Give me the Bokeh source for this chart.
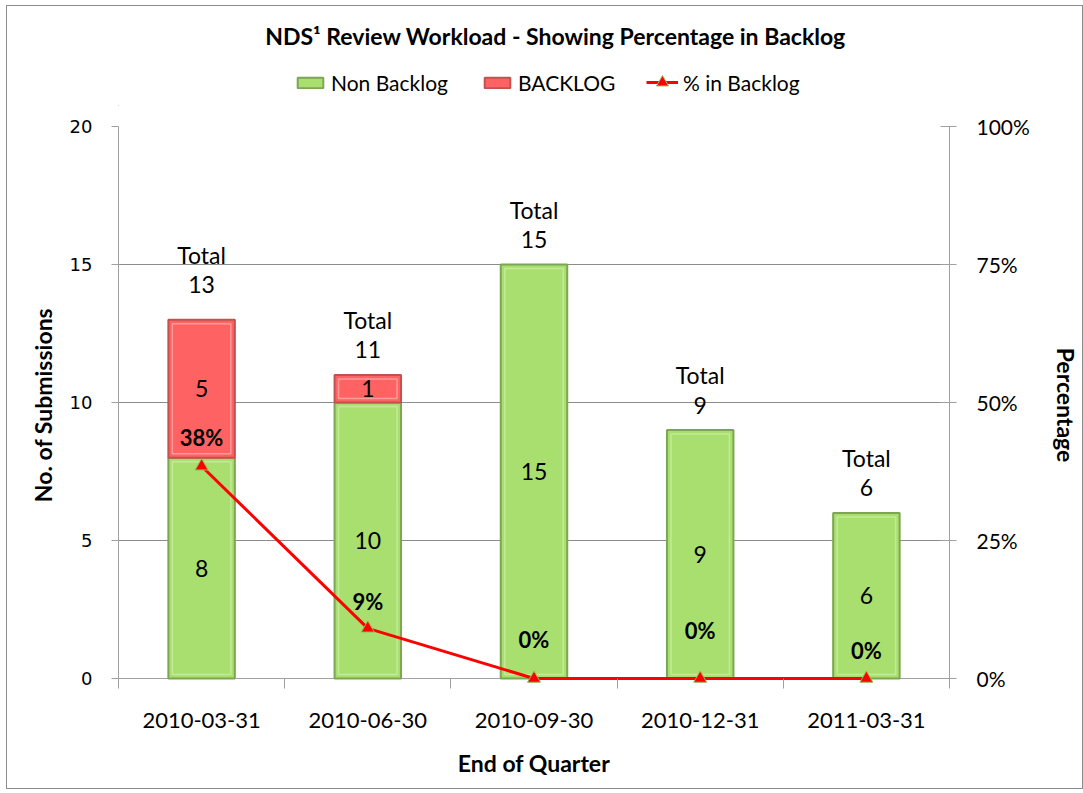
from bokeh.plotting import figure
from bokeh.layouts import column
from bokeh.models import Range1d, LinearAxis, FixedTicker, Label, Legend, LegendItem, ColumnDataSource, Span
from bokeh.core.properties import value
from bokeh.embed import file_html
from bokeh.resources import INLINE

# ---- data ----
quarters = ["2010-03-31", "2010-06-30", "2010-09-30", "2010-12-31", "2011-03-31"]
non_backlog = [8, 10, 15, 9, 6]
backlog = [5, 1, 0, 0, 0]
pct_backlog = [38.46, 9.09, 0.0, 0.0, 0.0]
pct_labels = ["38%", "9%", "0%", "0%", "0%"]
left_ticks = [0, 5, 10, 15, 20]
right_ticks = [0, 25, 50, 75, 100]
right_tick_labels = ["0%", "25%", "50%", "75%", "100%"]

# label nudges (screen px, negative = up)
total_nudge = [-35, -25, -25, -25, -25]
pct_nudge = [-29, -27, -39, -48, -28]

totals = [n + b for n, b in zip(non_backlog, backlog)]
xs = list(range(len(quarters)))

FONT = "Lato"
GREEN = "#A9DF6F"
GREEN_EDGE = "#7DA650"
GREEN_HI = "#C3EA98"
RED = "#FF6262"
RED_EDGE = "#C4514F"
RED_HI = "#FF9A9A"
AXIS_GRAY = "#A0A0A0"

FRAME_W = 831
VAL_H = 552
PAD = 5                      # px of room below zero so the zero marks are not clipped
BL, BR = 111, 129
TOP_H = 100
Y_MAX, P_MAX = 20, 100
Y_START = -Y_MAX * PAD / VAL_H
P_START = -P_MAX * PAD / VAL_H
PX_Y = VAL_H / Y_MAX          # px per unit (y)
PX_X = FRAME_W / len(xs)      # px per unit (x)
BAR_W = 0.4

# ---------------- header figure (title + legend) ----------------
top = figure(x_range=Range1d(0, FRAME_W), y_range=Range1d(0, TOP_H),
             frame_width=FRAME_W, frame_height=TOP_H,
             min_border_left=BL, min_border_right=BR, min_border_top=0, min_border_bottom=0,
             x_axis_location=None, y_axis_location=None,
             output_backend="svg", toolbar_location=None,
             background_fill_color="white", border_fill_color="white",
             outline_line_color=None)
top.xgrid.visible = False
top.ygrid.visible = False

# legend-only renderers (kept outside the visible range)
hidden = ColumnDataSource(data=dict(x=[-1000], y=[-1000], b=[-1000], t=[-999]))
lg = top.vbar(x="x", bottom="b", top="t", width=1, source=hidden,
              fill_color=GREEN, line_color=GREEN_EDGE, line_width=2)
lr = top.vbar(x="x", bottom="b", top="t", width=1, source=hidden,
              fill_color=RED, line_color=RED_EDGE, line_width=2)
ll = top.line(x="x", y="y", source=hidden, line_color="#FF0000", line_width=3)
ls = top.scatter(x="x", y="y", source=hidden, marker="triangle", size=13,
                 fill_color="#FF0000", line_color="#9BBB59", line_width=1)

LEG = dict(orientation="horizontal", glyph_width=32, label_standoff=5, spacing=33,
           padding=0, margin=0, border_line_color=None, background_fill_alpha=0,
           label_text_font=FONT, label_text_font_size="21px", label_text_color="black")
legend1 = Legend(items=[LegendItem(label="Non Backlog", renderers=[lg]),
                        LegendItem(label="BACKLOG", renderers=[lr])],
                 location=(176, 11), glyph_height=13, **LEG)
legend2 = Legend(items=[LegendItem(label="% in Backlog", renderers=[ll, ls])],
                 location=(528, 9), glyph_height=30, **LEG)
top.add_layout(legend1, "center")
top.add_layout(legend2, "center")

top.add_layout(Label(x=437, y=71, text="NDS\u00b9 Review Workload - Showing Percentage in Backlog",
                     text_font=FONT, text_font_style="bold", text_font_size="23px",
                     text_align="center", text_baseline="middle", text_color="black"))

# ---------------- main chart ----------------
p = figure(x_range=Range1d(-0.5, 4.5), y_range=Range1d(Y_START, Y_MAX),
           frame_width=FRAME_W, frame_height=VAL_H + PAD,
           min_border_left=BL, min_border_right=BR,
           min_border_top=20, min_border_bottom=110 - PAD,
           output_backend="svg", toolbar_location=None,
           background_fill_color="white", border_fill_color="white",
           outline_line_color=None)
p.extra_y_ranges = {"pct": Range1d(P_START, P_MAX)}

# x axis (its line is drawn at zero by a span, under the data)
p.xaxis.ticker = FixedTicker(ticks=xs, minor_ticks=[x - 0.5 for x in xs] + [xs[-1] + 0.5])
p.xaxis.major_label_overrides = {x: q for x, q in zip(xs, quarters)}
p.xaxis.major_tick_line_color = None
p.xaxis.major_tick_out = 0
p.xaxis.major_tick_in = 0
p.xaxis.minor_tick_line_color = AXIS_GRAY
p.xaxis.minor_tick_out = 10 - PAD
p.xaxis.minor_tick_in = PAD
p.xaxis.axis_line_color = None
p.xaxis.major_label_text_font = FONT
p.xaxis.major_label_text_font_size = "22px"
p.xaxis.major_label_text_color = "black"
p.xaxis.major_label_standoff = 24
p.xaxis.axis_label = "End of Quarter"
p.xaxis.axis_label_text_font = FONT
p.xaxis.axis_label_text_font_style = "bold"
p.xaxis.axis_label_text_font_size = "23px"
p.xaxis.axis_label_text_color = "black"
p.xaxis.axis_label_standoff = 18
p.add_layout(Span(location=0, dimension="width", line_color=AXIS_GRAY, line_width=1,
                  level="underlay"))

# left axis
p.yaxis.ticker = FixedTicker(ticks=left_ticks, minor_ticks=[])
p.yaxis.bounds = (0, Y_MAX)
p.yaxis.axis_line_color = AXIS_GRAY
p.yaxis.major_tick_line_color = AXIS_GRAY
p.yaxis.major_tick_in = 0
p.yaxis.major_tick_out = 7
p.yaxis.major_label_text_font = "DejaVu Sans"
p.yaxis.major_label_text_font_size = "18px"
p.yaxis.major_label_text_color = "black"
p.yaxis.major_label_standoff = 19
p.yaxis.axis_label = "No. of Submissions"
p.yaxis.axis_label_text_font = FONT
p.yaxis.axis_label_text_font_style = "bold"
p.yaxis.axis_label_text_font_size = "23px"
p.yaxis.axis_label_text_color = "black"
p.yaxis.axis_label_standoff = 10

# right axis
ra = LinearAxis(y_range_name="pct", ticker=FixedTicker(ticks=right_ticks, minor_ticks=[]),
                major_label_overrides={t: l for t, l in zip(right_ticks, right_tick_labels)},
                bounds=(0, P_MAX))
ra.axis_line_color = AXIS_GRAY
ra.major_tick_line_color = AXIS_GRAY
ra.major_tick_in = 9
ra.major_tick_out = 7
ra.major_label_text_font = FONT
ra.major_label_text_font_size = "21px"
ra.major_label_text_color = "black"
ra.major_label_standoff = 20
ra.axis_label = "Percentage"
ra.axis_label_text_font = FONT
ra.axis_label_text_font_style = "bold"
ra.axis_label_text_font_size = "23px"
ra.axis_label_text_color = "black"
ra.axis_label_standoff = 19
p.add_layout(ra, "right")

p.xgrid.visible = False
p.ygrid.ticker = FixedTicker(ticks=left_ticks[1:], minor_ticks=[])
p.ygrid.grid_line_color = "#8C8C8C"
p.ygrid.grid_line_width = 1

# bars (outer edge + inner light rim for a bevelled look)
IN_Y = 4 / PX_Y
IN_W = BAR_W - 8 / PX_X
p.vbar(x=xs, bottom=0, top=non_backlog, width=BAR_W,
       fill_color=GREEN, line_color=GREEN_EDGE, line_width=2)
p.vbar(x=xs, bottom=IN_Y, top=[n - IN_Y for n in non_backlog], width=IN_W,
       fill_color=None, line_color=GREEN_HI, line_width=1.5)
bx = [x for x, b in zip(xs, backlog) if b > 0]
bb = [n for n, b in zip(non_backlog, backlog) if b > 0]
bt = [t for t, b in zip(totals, backlog) if b > 0]
p.vbar(x=bx, bottom=bb, top=bt, width=BAR_W,
       fill_color=RED, line_color=RED_EDGE, line_width=2)
p.vbar(x=bx, bottom=[v + IN_Y for v in bb], top=[v - IN_Y for v in bt], width=IN_W,
       fill_color=None, line_color=RED_HI, line_width=1.5)

LBL = dict(text_font=value(FONT), text_font_size="23px", text_align="center",
           text_baseline="middle", text_color="black")

# value labels inside bars
p.text(x=xs, y=[n / 2 for n in non_backlog], text=[str(n) for n in non_backlog], **LBL)
p.text(x=bx, y=[n + (t - n) / 2 for n, t in zip(bb, bt)],
       text=[str(t - n) for n, t in zip(bb, bt)], **LBL)

# total labels
tsrc = ColumnDataSource(data=dict(x=xs, y=totals, t=[str(t) for t in totals],
                                  lab=["Total"] * len(xs),
                                  o1=total_nudge, o2=[o - 30 for o in total_nudge]))
p.text(x="x", y="y", text="t", y_offset="o1", source=tsrc, **LBL)
p.text(x="x", y="y", text="lab", y_offset="o2", source=tsrc, **LBL)

# percentage line
p.line(x=xs, y=pct_backlog, y_range_name="pct", line_color="#FF0000", line_width=3)
p.scatter(x=xs, y=pct_backlog, y_range_name="pct", marker="triangle", size=13,
          fill_color="#FF0000", line_color="#9BBB59", line_width=1)
psrc = ColumnDataSource(data=dict(x=xs, y=pct_backlog, t=pct_labels, o=pct_nudge))
p.text(x="x", y="y", text="t", y_offset="o", source=psrc, y_range_name="pct",
       text_font=value(FONT), text_font_size="22px", text_font_style="bold",
       text_align="center", text_baseline="middle", text_color="black")

layout = column(top, p, spacing=0,
                styles={"border": "1px solid #8C8C8C", "margin-left": "6px", "margin-top": "5px"})

open("out.html", "w").write(file_html(layout, INLINE))
